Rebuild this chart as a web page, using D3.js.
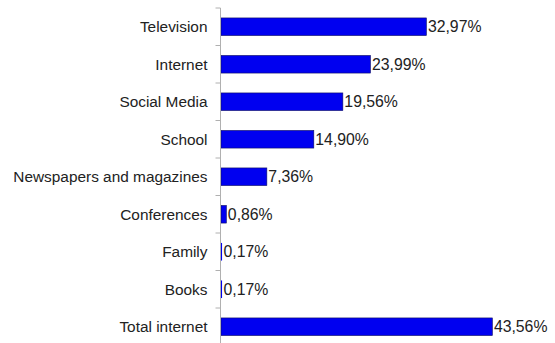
<!DOCTYPE html>
<html>
<head>
<meta charset="utf-8">
<script src="https://cdn.jsdelivr.net/npm/d3@7"></script>
<style>
  body { margin: 0; background: #fff; }
  svg { font-family: "Liberation Sans", Arial, sans-serif; }
  .axis path, .axis line { stroke: #b0b0b0; }
  .label { fill: #222; }
  .cat { font-size: 15.4px; }
  .val { font-size: 15.8px; }
</style>
</head>
<body>
<svg width="555" height="343"></svg>
<script>
var categories = ["Television", "Internet", "Social Media", "School", "Newspapers and magazines",
                  "Conferences", "Family", "Books", "Total internet"];
var values = [32.97, 23.99, 19.56, 14.90, 7.36, 0.86, 0.17, 0.17, 43.56];
var valueLabels = ["32,97%", "23,99%", "19,56%", "14,90%", "7,36%", "0,86%", "0,17%", "0,17%", "43,56%"];

var margin = { top: 8, left: 220.5 };
var plotWidth = 311.5, plotHeight = 337.5;

var data = categories.map(function(c, i) { return { cat: c, v: values[i], lab: valueLabels[i] }; });

var xScale = d3.scaleLinear()
	.domain([0, 50])
	.range([0, plotWidth]);

var yScale = d3.scaleBand()
	.domain(categories)
	.range([0, plotHeight])
	.paddingInner(0.53)
	.paddingOuter(0.265);

var svg = d3.select("svg")
	.append("g").attr("transform", "translate(" + margin.left + "," + margin.top + ")");

svg.selectAll("rect.bar")
	.data(data)
	.enter().append("rect")
		.attr("class", "bar")
		.attr("x", 0.5)
		.attr("y", function(d) { return yScale(d.cat); })
		.attr("width", function(d) { return xScale(d.v); })
		.attr("height", yScale.bandwidth())
		.attr("fill", "#0000f0")
		// tiny bars vanish behind the axis in the original
		.attr("stroke", function(d) { return xScale(d.v) > 2 ? "#101060" : "none"; })
		.attr("stroke-width", 0.6);

// axis line and ticks between categories
var axis = svg.append("g").attr("class", "axis");
axis.append("line")
	.attr("x1", 0).attr("x2", 0)
	.attr("y1", 0).attr("y2", plotHeight);

var step = yScale.step();
axis.selectAll("line.tick")
	.data(d3.range(categories.length + 1))
	.enter().append("line")
		.attr("class", "tick")
		.attr("x1", -5).attr("x2", 0)
		.attr("y1", function(i) { return i * step; })
		.attr("y2", function(i) { return i * step; });

svg.selectAll("text.cat")
	.data(data)
	.enter().append("text")
		.attr("class", "label cat")
		.attr("x", -13)
		.attr("y", function(d) { return yScale(d.cat) + yScale.bandwidth() / 2; })
		.attr("dy", "0.36em")
		.style("text-anchor", "end")
		.text(function(d) { return d.cat; });

svg.selectAll("text.val")
	.data(data)
	.enter().append("text")
		.attr("class", "label val")
		.attr("x", function(d) { return xScale(d.v) + 2; })
		.attr("y", function(d) { return yScale(d.cat) + yScale.bandwidth() / 2; })
		.attr("dy", "0.36em")
		.text(function(d) { return d.lab; });
</script>
</body>
</html>
